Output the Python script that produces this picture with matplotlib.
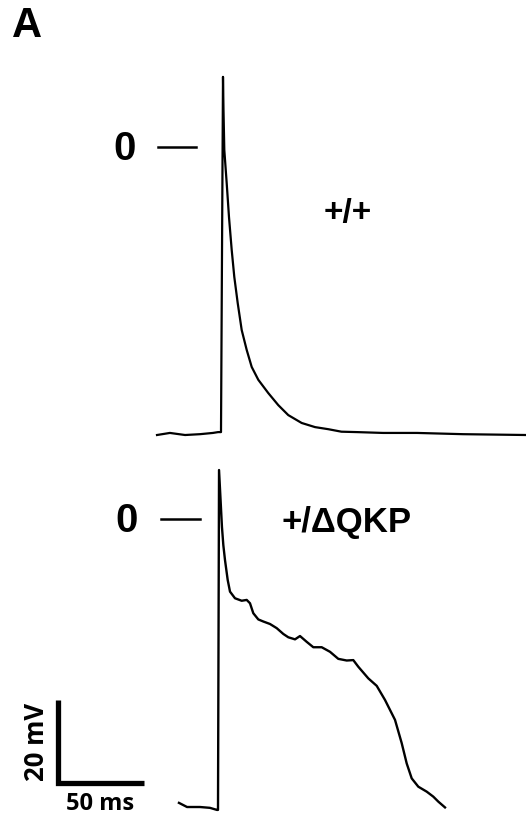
import matplotlib
matplotlib.use("Agg")
import matplotlib.pyplot as plt

# action potential traces (time in ms, voltage in mV)
wt_time = [-37.2, -29.7, -20.9, -12.2, -4.7, -1.7, 0.0, 1.16, 1.45, 1.92, 3.31, 4.65,
           6.22, 7.73, 9.71, 12.03, 14.94, 17.85, 21.69, 27.5, 33.3, 39.1, 46.9, 54.7,
           62.4, 70.0, 79.1, 94.2, 114.0, 140.7, 177.3]
wt_volt = [-69.4, -68.9, -69.4, -69.2, -68.9, -68.7, -68.7, 16.9, 8.9, -0.7, -8.7, -16.9,
           -24.8, -31.3, -37.6, -44.1, -48.9, -53.0, -56.1, -59.3, -62.2, -64.6, -66.5, -67.5,
           -68.0, -68.6, -68.7, -68.9, -68.9, -69.2, -69.4]

mut_time = [-22.7, -18.0, -10.5, -4.7, -0.6, 0.0, 0.6, 2.3, 3.1, 4.07, 5.64, 6.98, 9.88,
            13.78, 16.69, 18.60, 20.52, 23.43, 26.34, 30.23, 34.13, 37.97, 40.87, 44.77,
            47.67, 51.57, 55.41, 60.29, 65.12, 69.94, 74.83, 78.66, 81.57, 87.38, 92.27,
            97.09, 102.91, 106.80, 109.71, 112.62, 116.45, 121.34, 125.17, 128.08, 131.98]
mut_volt = [-68.4, -69.4, -69.4, -69.6, -70.1, -70.1, 11.8, -1.9, -6.3, -9.9, -14.7, -17.5, -19.1,
            -19.7, -19.5, -20.3, -22.7, -24.2, -24.7, -25.3, -26.3, -27.7, -28.5, -29.0,
            -28.2, -29.6, -30.9, -30.9, -32.0, -33.7, -34.1, -34.0, -35.6, -38.4, -40.2,
            -43.6, -48.4, -54.0, -58.9, -62.5, -64.5, -65.7, -66.9, -68.1, -69.5]

labels = ["+/+", "+/\u0394QKP"]
scale_mv = 20
scale_ms = 50

W, H = 526, 821
MS_PX = 1.72   # pixels per ms
MV_PX = 4.15   # pixels per mV

fig = plt.figure(figsize=(W / 100, H / 100), dpi=100)


def px(x, y):
    return x / W, 1 - y / H


def panel_axes(x0, y0):
    # axes over the whole figure; (x0, y0) is the pixel of t=0, V=0
    ax = fig.add_axes([0, 0, 1, 1])
    ax.set_xlim(-x0 / MS_PX, (W - x0) / MS_PX)
    ax.set_ylim((y0 - H) / MV_PX, y0 / MV_PX)
    ax.axis("off")
    ax.patch.set_alpha(0)
    return ax


top = panel_axes(221, 147)
top.plot(wt_time, wt_volt, color="black", lw=1.6, solid_joinstyle="round")
top.plot([-36.6, -14.5], [0, 0], color="black", lw=1.8)

bot = panel_axes(218, 519)
bot.plot(mut_time, mut_volt, color="black", lw=1.7, solid_joinstyle="round")
bot.plot([-33.1, -10.5], [0, 0], color="black", lw=1.8)

# scale bar
sx, sy = -93.0, -63.6
bot.plot([sx, sx, sx + scale_ms], [sy + scale_mv, sy, sy], color="black", lw=3.8,
         solid_joinstyle="miter", solid_capstyle="butt")

bold = dict(fontweight="bold", family="Liberation Sans")
fig.text(*px(12, 37), "A", fontsize=30, ha="left", va="baseline", **bold)
fig.text(*px(125, 160), "0", fontsize=29, ha="center", va="baseline", **bold)
fig.text(*px(348, 222), labels[0], fontsize=24, ha="center", va="baseline", **bold)
fig.text(*px(127, 532), "0", fontsize=29, ha="center", va="baseline", **bold)
fig.text(*px(347, 532), labels[1], fontsize=25, ha="center", va="baseline", **bold)

sb = dict(fontweight="bold", family="Open Sans")
fig.text(*px(100, 810), f"{scale_ms} ms", fontsize=17, ha="center", va="baseline", **sb)
fig.text(*px(36, 742), f"{scale_mv} mV", fontsize=18.5, rotation=90,
         ha="center", va="center", **sb)

fig.savefig("out.png", dpi=100)
